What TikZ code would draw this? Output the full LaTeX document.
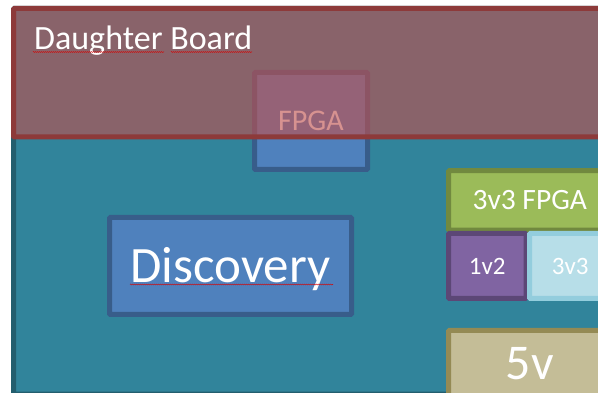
\documentclass[tikz,border=0pt]{standalone}
\usepackage{fontspec}
\setmainfont{Carlito}
\usetikzlibrary{decorations.pathmorphing}
\definecolor{board teal}{HTML}{31849B}
\definecolor{board edge}{HTML}{235E6E}
\definecolor{db red}{HTML}{C0504D}
\definecolor{db edge}{HTML}{8D3A3A}
\definecolor{chip blue}{HTML}{4F81BD}
\definecolor{chip edge}{HTML}{385D8A}
\definecolor{rail green}{HTML}{9BBB59}
\definecolor{green edge}{HTML}{71893F}
\definecolor{rail purple}{HTML}{8064A2}
\definecolor{purple edge}{HTML}{5C4776}
\definecolor{rail sky}{HTML}{B7DEE8}
\definecolor{sky edge}{HTML}{93CDDD}
\definecolor{rail tan}{HTML}{C4BD97}
\definecolor{tan edge}{HTML}{948A54}
\newcommand{\fsize}[1]{\fontsize{#1}{#1}\selectfont}
\tikzset{
  board block/.style={
    draw,
    line width=5,
    rounded corners=1,
    text=white,
    inner sep=0,
    text depth=0pt,
  },
  spell mark/.style={
    draw=red!85!black,
    line width=0.5,
    decorate,
    decoration={snake, amplitude=0.5pt, segment length=2pt},
  },
}

\begin{document}
\begin{tikzpicture}[x=1pt, y=-1pt]
      \useasboundingbox (0,0) rectangle (598,393);
      \clip (0,0) rectangle (598,393);

      \node[board block, fill=board teal, draw=board edge, minimum width=598.5, minimum height=385.5] (main) at (312.75,201.25) {};
      \node[board block, fill=chip blue, draw=chip edge, minimum width=113, minimum height=97, font=\fsize{30}, text height=19.3pt] (fpga) at (311,121) {FPGA};
      \node[board block, fill=db red, fill opacity=0.62, draw=db edge, minimum width=606.5, minimum height=128.5] (daughter) at (316.75,72.75) {};
      \node[text=white, inner sep=0, anchor=west, font=\fsize{34}, text height=21.9pt, text depth=0pt] (dblabel) at (34,38.5) {Daughter Board};

      \node[board block, fill=chip blue, draw=chip edge, minimum width=242, minimum height=97, font=\fsize{51}, text height=32.8pt] (discovery) at (230.5,266) {Discovery};

      \node[board block, fill=rail green, draw=green edge, minimum width=162.5, minimum height=59.5, font=\fsize{29.5}, text height=19pt] (fpgarail) at (529.75,200.5) {3v3 FPGA};
      \node[board block, fill=rail purple, draw=purple edge, minimum width=77.5, minimum height=65, font=\fsize{25}, text height=16.1pt] (rail12) at (487.25,266) {1v2};
      \node[board block, fill=rail sky, draw=sky edge, minimum width=81.5, minimum height=65, font=\fsize{25}, text height=16.1pt] (rail33) at (570.25,266) {3v3};
      \node[board block, fill=rail tan, draw=tan edge, minimum width=162.5, minimum height=65.5, font=\fsize{50}, text height=32.2pt] (rail5) at (529.75,363.25) {5v};

      \draw[spell mark] (33,52) -- (164,52);
      \draw[spell mark] (171,52) -- (252,52);
      \draw[spell mark] (130,284.5) -- (333,284.5);
\end{tikzpicture}
\end{document}
